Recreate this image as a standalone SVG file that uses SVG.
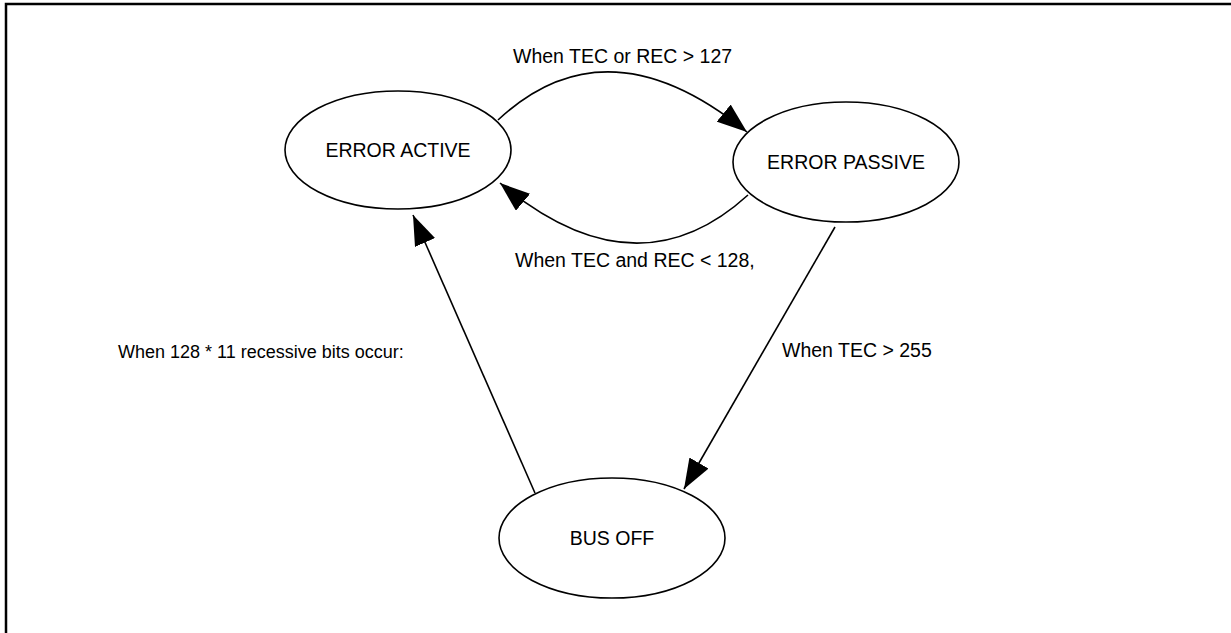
<svg xmlns="http://www.w3.org/2000/svg" width="1231" height="633" viewBox="0 0 1231 633">
<style>
.node ellipse{fill:#fff;stroke:#000;stroke-width:1.6}
.node text{font-family:"Liberation Sans",Arial,sans-serif;font-size:19.5px;fill:#000;text-anchor:middle}
.lbl{font-family:"Liberation Sans",Arial,sans-serif;font-size:19.5px;fill:#000}
.edge{fill:none;stroke:#000;stroke-width:1.6;marker-end:url(#ah)}
</style>
<defs>
<marker id="ah" viewBox="0 0 30 22" refX="30" refY="11" markerWidth="30" markerHeight="22" markerUnits="userSpaceOnUse" orient="auto">
<path d="M0,0 L30,11 L0,22 z" fill="#000"/>
</marker>
</defs>
<rect width="1231" height="633" fill="#fff"/>
<path d="M6,640 L6,4 L1240,4" fill="none" stroke="#000" stroke-width="2.5"/>
<g id="connectors">
<path class="edge" d="M498,120 Q607,18 747,132"/>
<path class="edge" d="M748,195 Q636,297 500,183"/>
<path class="edge" d="M835,227 L684,489"/>
<path class="edge" d="M535,493 L413,215"/>
</g>
<g id="labels">
<text class="lbl" x="513" y="63">When TEC or REC &gt; 127</text>
<text class="lbl" x="515" y="267">When TEC and REC &lt; 128,</text>
<text class="lbl" x="782" y="357">When TEC &gt; 255</text>
<text class="lbl" x="118" y="358" style="font-size:18px">When 128 * 11 recessive bits occur:</text>
</g>
<g id="error-active" class="node">
<ellipse cx="398" cy="150" rx="113" ry="59"/>
<text x="398" y="157">ERROR ACTIVE</text>
</g>
<g id="error-passive" class="node">
<ellipse cx="846" cy="162" rx="113" ry="60"/>
<text x="846" y="169">ERROR PASSIVE</text>
</g>
<g id="bus-off" class="node">
<ellipse cx="612" cy="538" rx="113" ry="60"/>
<text x="612" y="545">BUS OFF</text>
</g>
</svg>
